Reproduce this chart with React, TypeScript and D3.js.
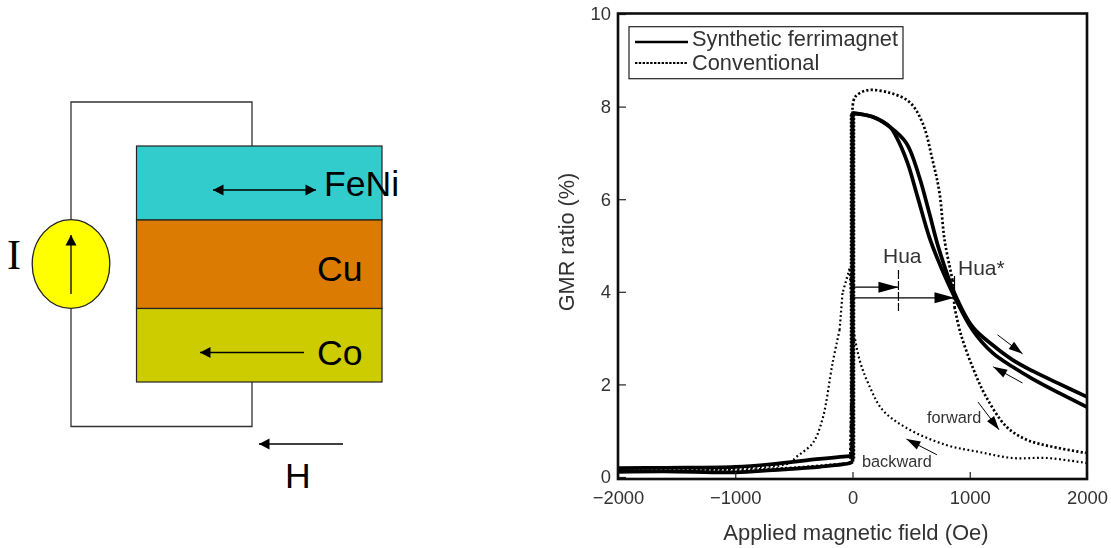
import React, { useEffect, useRef } from 'react';
import * as d3 from 'd3';

type Pt = [number, number];

const xTicks = [-2000, -1000, 0, 1000, 2000];
const yTicks = [0, 2, 4, 6, 8, 10];

// [field in Oe, GMR in %]
const sfForward: Pt[] = [
  [-2000, 0.11], [-1600, 0.12], [-1000, 0.1], [-680, 0.15], [-280, 0.22], [-20, 0.3], [0, 0.33],
  [0, 7.86], [170, 7.78], [320, 7.56], [460, 7.21], [570, 6.48], [655, 5.7], [740, 4.9], [870, 3.97],
  [1025, 3.24], [1195, 2.85], [1365, 2.53], [1535, 2.29], [1765, 2.01], [2000, 1.73],
];
const sfBackward: Pt[] = [
  [2000, 1.51], [1765, 1.81], [1535, 2.12], [1365, 2.38], [1195, 2.68], [1025, 3.17], [870, 3.89],
  [740, 4.62], [655, 5.18], [555, 6.05], [470, 6.78], [375, 7.34], [320, 7.56], [170, 7.78], [0, 7.86],
  [0, 0.45], [-20, 0.45], [-280, 0.39], [-680, 0.28], [-1000, 0.22], [-1600, 0.2], [-2000, 0.19],
];
const convForward: Pt[] = [
  [-2000, 0.14], [-1000, 0.15], [-500, 0.2], [-20, 0.3], [0, 3], [0, 7.93], [20, 8.2], [120, 8.35],
  [315, 8.3], [485, 8.1], [597, 7.65], [682, 6.85], [742, 6.14], [785, 5.12], [853, 4.26], [870, 3.67],
  [922, 3.1], [1023, 2.38], [1140, 1.73], [1316, 1.08], [1490, 0.8], [1710, 0.65], [1990, 0.52],
];
const convBackward: Pt[] = [
  [2000, 0.3], [1660, 0.41], [1365, 0.41], [1080, 0.54], [800, 0.69], [460, 1.06], [256, 1.45], [145, 1.96],
  [60, 2.53], [0, 3.3], [-25, 4.5], [-85, 3.97], [-110, 3.18], [-170, 2.46], [-256, 1.25], [-340, 0.73],
  [-480, 0.43], [-540, 0.3], [-1000, 0.18], [-2000, 0.13],
];

const huaField = 392;
const huaStarField = 870;
const huaLevel = 4.1;
const huaStarLevel = 3.87;
// sweep direction arrows, [from, to] in data units
const sweepArrows: [Pt, Pt][] = [
  [[1237, 3.07], [1450, 2.66]],
  [[1450, 2.03], [1200, 2.38]],
  [[1070, 1.62], [1250, 1.02]],
  [[720, 0.48], [460, 0.82]],
];

const layers = [
  { name: 'FeNi', y0: 146, y1: 220, fill: '#33cccc' },
  { name: 'Cu', y0: 220, y1: 308.5, fill: '#dc7b02' },
  { name: 'Co', y0: 308.5, y1: 382, fill: '#cccc00' },
];

const x = d3.scaleLinear().domain([-2000, 2000]).range([618, 1087]);
const y = d3.scaleLinear().domain([0, 10]).range([477, 14]);
const smooth = d3.line<Pt>().x(d => x(d[0])).y(d => y(d[1])).curve(d3.curveCatmullRom.alpha(0.5));

// the sweeps jump almost vertically near zero field: splining across that overshoots,
// so cut the series at the steep steps and keep those straight
function curve(pts: Pt[]) {
  let out = '';
  let run: Pt[] = [pts[0]];
  for (let i = 1; i < pts.length; i++) {
    const steep = Math.abs(pts[i][0] - pts[i - 1][0]) <= 25 && Math.abs(pts[i][1] - pts[i - 1][1]) > 0.5;
    if (steep) {
      out += smooth(run);
      out += `M${x(pts[i - 1][0])},${y(pts[i - 1][1])}L${x(pts[i][0])},${y(pts[i][1])}`;
      run = [pts[i]];
    } else {
      run.push(pts[i]);
    }
  }
  return out + smooth(run);
}

const INK = '#333';
const SANS = '"Liberation Sans", Arial, sans-serif';

function head(x1: number, y1: number, x2: number, y2: number, len: number, w: number) {
  const a = Math.atan2(y2 - y1, x2 - x1);
  const bx = x2 - len * Math.cos(a);
  const by = y2 - len * Math.sin(a);
  const nx = (w / 2) * Math.sin(a);
  const ny = (w / 2) * Math.cos(a);
  return `${x2},${y2} ${bx + nx},${by - ny} ${bx - nx},${by + ny}`;
}

function Arrow({ x1, y1, x2, y2, len = 10.5, w = 11, sw = 1.3, both = false }: any) {
  return (
    <g>
      <line x1={x1} y1={y1} x2={x2} y2={y2} stroke="#000" strokeWidth={sw} />
      <polygon points={head(x1, y1, x2, y2, len, w)} fill="#000" />
      {both && <polygon points={head(x2, y2, x1, y1, len, w)} fill="#000" />}
    </g>
  );
}

export default function App() {
  const xRef = useRef<SVGGElement>(null);
  const yRef = useRef<SVGGElement>(null);

  useEffect(() => {
    const ax = d3.axisBottom(x).tickValues(xTicks).tickSizeInner(-7).tickSizeOuter(0).tickPadding(12).tickFormat(d3.format('d') as any);
    const ay = d3.axisLeft(y).tickValues(yTicks).tickSizeInner(-8).tickSizeOuter(0).tickPadding(7);
    [d3.select(xRef.current!).call(ax as any), d3.select(yRef.current!).call(ay as any)].forEach((g: any) => {
      g.select('.domain').remove();
      g.attr('font-size', 18.4).attr('font-family', SANS);
      g.selectAll('text').attr('fill', INK);
      g.selectAll('line').attr('stroke', '#222').attr('stroke-width', 1.2);
    });
  }, []);

  return (
    <svg width={1111} height={548} style={{ position: 'absolute', left: 0, top: 0 }} fontFamily={SANS}>
      <defs>
        <filter id="soft" x="-5%" y="-5%" width="110%" height="110%">
          <feGaussianBlur stdDeviation="0.4" />
        </filter>
      </defs>

      {/* device sketch */}
      <path d="M71,220 V102 H252 V146 M71,308 V426.5 H252 V382" fill="none" stroke="#333" strokeWidth={1.3} />
      {layers.map(l => (
        <rect key={l.name} x={136.5} y={l.y0} width={245.5} height={l.y1 - l.y0} fill={l.fill} stroke="#222" strokeWidth={1.2} />
      ))}
      <ellipse cx={71} cy={264} rx={38.8} ry={44.3} fill="#ffff00" stroke="#222" strokeWidth={1.3} />
      <Arrow x1={71} y1={294} x2={71} y2={235} />
      <Arrow x1={213} y1={190} x2={316} y2={190} both />
      <Arrow x1={304} y1={352.5} x2={200} y2={352.5} />
      <Arrow x1={343} y1={444} x2={259} y2={444} />
      <text x={7} y={269} fontFamily='"Liberation Serif", serif' fontSize={42}>I</text>
      <g fontSize={35.6} fill="#000">
        <text x={324} y={196}>FeNi</text>
        <text x={317} y={281}>Cu</text>
        <text x={317} y={365}>Co</text>
        <text x={285} y={488}>H</text>
      </g>

      {/* GMR plot */}
      <g filter="url(#soft)">
        <path d={curve(convBackward)} fill="none" stroke="#000" strokeWidth={2.2} strokeDasharray="1.8 2.6" />
        <path d={curve(convForward)} fill="none" stroke="#000" strokeWidth={2.7} strokeDasharray="2.2 2.2" />
        <path d={curve(sfForward)} fill="none" stroke="#000" strokeWidth={3.7} />
        <path d={curve(sfBackward)} fill="none" stroke="#000" strokeWidth={3.7} />
        {/* noisy edge on the jump at zero field */}
        <line x1={x(0)} x2={x(0)} y1={y(0.4)} y2={y(7.86)} stroke="#000" strokeWidth={5.5} strokeDasharray="2 1.6" />

        <g ref={xRef} transform="translate(0,479)" />
        <g ref={yRef} transform="translate(618,0)" />
        <rect x={618} y={13.5} width={469} height={465.5} fill="none" stroke="#111" strokeWidth={2.6} />

        {/* legend */}
        <rect x={629} y={26.7} width={274} height={52} fill="#fff" stroke="#222" strokeWidth={1.2} />
        <line x1={635} x2={688} y1={42} y2={42} stroke="#000" strokeWidth={2.6} />
        <line x1={635} x2={688} y1={63} y2={63} stroke="#000" strokeWidth={2.2} strokeDasharray="2.4 1.4" />
        <g fontSize={21.8} fill={INK}>
          <text x={692} y={46}>Synthetic ferrimagnet</text>
          <text x={692} y={69.5}>Conventional</text>
        </g>

        {/* Hua markers */}
        <line x1={x(huaField)} x2={x(huaField)} y1={270} y2={311} stroke="#000" strokeWidth={1.2} strokeDasharray="9 2" />
        <line x1={x(huaStarField)} x2={x(huaStarField)} y1={276} y2={y(huaStarLevel)} stroke="#000" strokeWidth={1.2} />
        <Arrow x1={x(0)} y1={y(huaLevel)} x2={x(huaField)} y2={y(huaLevel)} len={20} w={11} sw={1.2} />
        <Arrow x1={x(0)} y1={y(huaStarLevel)} x2={x(huaStarField)} y2={y(huaStarLevel)} len={20} w={11} sw={1.2} />
        <g fontSize={21} fill={INK}>
          <text x={883} y={263}>Hua</text>
          <text x={958} y={275}>Hua*</text>
        </g>
        {sweepArrows.map(([a, b], i) => (
          <Arrow key={i} x1={x(a[0])} y1={y(a[1])} x2={x(b[0])} y2={y(b[1])} len={14} w={9} sw={1} />
        ))}
        <g fontSize={16.3} fill={INK}>
          <text x={927} y={423}>forward</text>
          <text x={862} y={467}>backward</text>
        </g>

        <text x={856} y={540} textAnchor="middle" fontSize={22} fill={INK}>Applied magnetic field (Oe)</text>
        <text transform="translate(574,242) rotate(-90)" textAnchor="middle" fontSize={21.7} fill={INK}>GMR ratio (%)</text>
      </g>
    </svg>
  );
}
